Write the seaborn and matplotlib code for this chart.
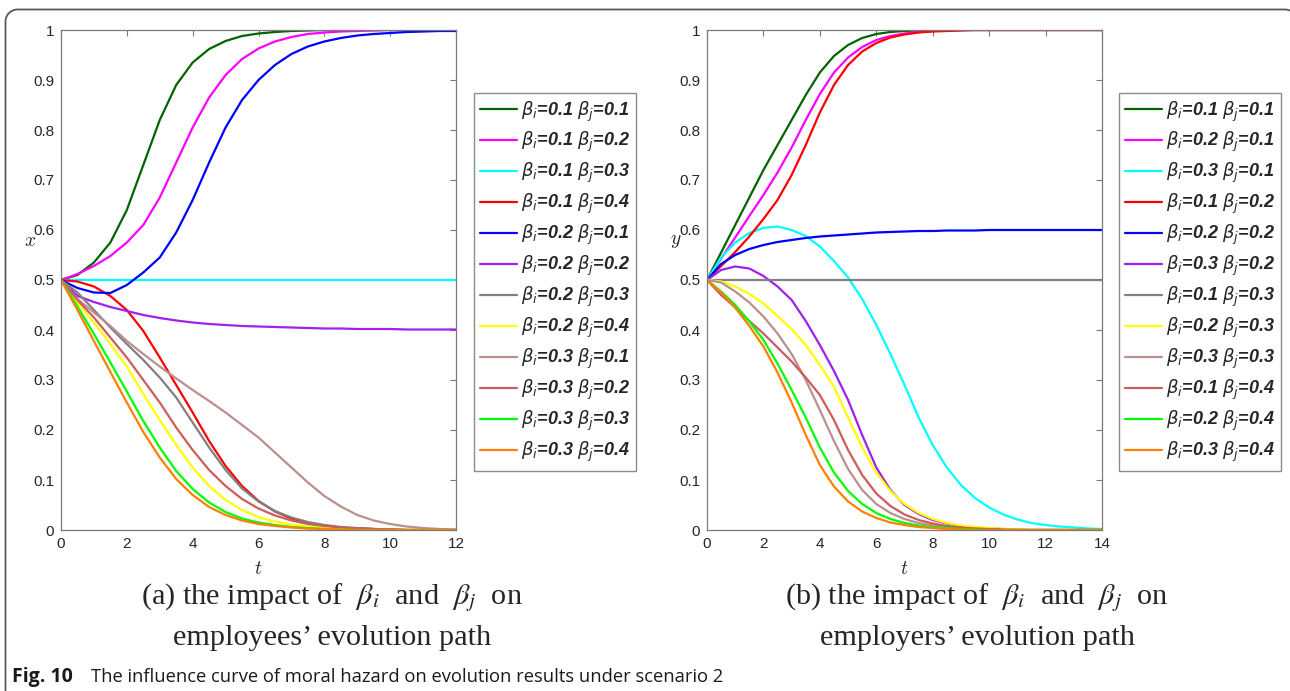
import numpy as np
import pandas as pd
import matplotlib
matplotlib.use("Agg")
import matplotlib.pyplot as plt
from matplotlib.patches import PathPatch
from matplotlib.path import Path
from matplotlib.transforms import IdentityTransform
from matplotlib.font_manager import FontProperties
from matplotlib.ticker import FuncFormatter, MultipleLocator
import seaborn as sns

# ---------------------------------------------------------------- data
T_EMP = np.arange(0, 12.01, 0.5)     # time grid, panel (a)
T_BOSS = np.arange(0, 14.01, 0.5)    # time grid, panel (b)

PAIRS_EMP = [("0.1", "0.1"), ("0.1", "0.2"), ("0.1", "0.3"), ("0.1", "0.4"),
             ("0.2", "0.1"), ("0.2", "0.2"), ("0.2", "0.3"), ("0.2", "0.4"),
             ("0.3", "0.1"), ("0.3", "0.2"), ("0.3", "0.3"), ("0.3", "0.4")]
PAIRS_BOSS = [("0.1", "0.1"), ("0.2", "0.1"), ("0.3", "0.1"), ("0.1", "0.2"),
              ("0.2", "0.2"), ("0.3", "0.2"), ("0.1", "0.3"), ("0.2", "0.3"),
              ("0.3", "0.3"), ("0.1", "0.4"), ("0.2", "0.4"), ("0.3", "0.4")]

COLORS = ["#006400", "#FF00FF", "#00FFFF", "#FF0000", "#0000FF", "#A020F0",
          "#808080", "#FFFF00", "#BC8F8F", "#CD5C5C", "#00FF00", "#FF8000"]

# employees' share x(t)
x_11 = [0.5, 0.51, 0.535, 0.575, 0.64, 0.73, 0.82, 0.89, 0.935, 0.962, 0.978, 0.988, 0.993,
        0.996, 0.998, 0.999, 1.0, 1.0, 1.0, 1.0, 1.0, 1.0, 1.0, 1.0, 1.0]
x_12 = [0.5, 0.512, 0.528, 0.548, 0.575, 0.61, 0.665, 0.735, 0.805, 0.865, 0.91, 0.942, 0.963,
        0.977, 0.986, 0.992, 0.995, 0.997, 0.998, 0.999, 1.0, 1.0, 1.0, 1.0, 1.0]
x_13 = [0.5, 0.5, 0.5, 0.5, 0.5, 0.5, 0.5, 0.5, 0.5, 0.5, 0.5, 0.5, 0.5,
        0.5, 0.5, 0.5, 0.5, 0.5, 0.5, 0.5, 0.5, 0.5, 0.5, 0.5, 0.5]
x_14 = [0.5, 0.497, 0.487, 0.468, 0.44, 0.398, 0.345, 0.29, 0.235, 0.178, 0.128, 0.088, 0.058,
        0.037, 0.023, 0.014, 0.009, 0.005, 0.003, 0.002, 0.001, 0.0, 0.0, 0.0, 0.0]
x_21 = [0.5, 0.484, 0.475, 0.474, 0.49, 0.515, 0.545, 0.595, 0.66, 0.735, 0.805, 0.86, 0.9,
        0.93, 0.952, 0.967, 0.977, 0.984, 0.989, 0.992, 0.994, 0.996, 0.997, 0.998, 0.998]
x_22 = [0.5, 0.468, 0.456, 0.446, 0.438, 0.43, 0.424, 0.419, 0.415, 0.412, 0.41, 0.408, 0.407,
        0.406, 0.405, 0.404, 0.403, 0.403, 0.402, 0.402, 0.402, 0.401, 0.401, 0.401, 0.401]
x_23 = [0.5, 0.475, 0.44, 0.405, 0.372, 0.34, 0.305, 0.265, 0.215, 0.165, 0.12, 0.083, 0.057,
        0.038, 0.025, 0.016, 0.01, 0.006, 0.004, 0.002, 0.001, 0.0, 0.0, 0.0, 0.0]
x_24 = [0.5, 0.455, 0.415, 0.372, 0.327, 0.272, 0.22, 0.17, 0.125, 0.088, 0.06, 0.04, 0.026,
        0.017, 0.011, 0.007, 0.004, 0.003, 0.002, 0.001, 0.0, 0.0, 0.0, 0.0, 0.0]
x_31 = [0.5, 0.462, 0.435, 0.408, 0.378, 0.352, 0.327, 0.303, 0.28, 0.258, 0.235, 0.21, 0.185,
        0.155, 0.125, 0.095, 0.068, 0.047, 0.03, 0.019, 0.012, 0.007, 0.004, 0.002, 0.001]
x_32 = [0.5, 0.46, 0.425, 0.385, 0.345, 0.3, 0.255, 0.205, 0.16, 0.12, 0.088, 0.062, 0.043,
        0.029, 0.019, 0.012, 0.008, 0.005, 0.003, 0.002, 0.001, 0.0, 0.0, 0.0, 0.0]
x_33 = [0.5, 0.447, 0.392, 0.335, 0.277, 0.218, 0.165, 0.118, 0.082, 0.055, 0.036, 0.023, 0.015,
        0.01, 0.006, 0.004, 0.002, 0.001, 0.0, 0.0, 0.0, 0.0, 0.0, 0.0, 0.0]
x_34 = [0.5, 0.44, 0.378, 0.316, 0.255, 0.196, 0.145, 0.102, 0.07, 0.046, 0.03, 0.019, 0.012,
        0.008, 0.005, 0.003, 0.002, 0.001, 0.0, 0.0, 0.0, 0.0, 0.0, 0.0, 0.0]

# employers' share y(t)
y_11 = [0.5, 0.555, 0.61, 0.665, 0.72, 0.77, 0.82, 0.87, 0.915, 0.948, 0.97, 0.984, 0.992, 0.996,
        0.998, 0.999, 1.0, 1.0, 1.0, 1.0, 1.0, 1.0, 1.0, 1.0, 1.0, 1.0, 1.0, 1.0, 1.0]
y_21 = [0.5, 0.543, 0.585, 0.628, 0.67, 0.715, 0.765, 0.82, 0.872, 0.915, 0.945, 0.966, 0.98, 0.988,
        0.993, 0.996, 0.998, 0.999, 1.0, 1.0, 1.0, 1.0, 1.0, 1.0, 1.0, 1.0, 1.0, 1.0, 1.0]
y_31 = [0.5, 0.545, 0.575, 0.594, 0.604, 0.607, 0.6, 0.588, 0.567, 0.538, 0.505, 0.462, 0.41, 0.352,
        0.29, 0.225, 0.17, 0.125, 0.09, 0.064, 0.045, 0.031, 0.021, 0.014, 0.01, 0.007, 0.005, 0.003, 0.002]
y_12 = [0.5, 0.528, 0.556, 0.587, 0.622, 0.66, 0.71, 0.77, 0.835, 0.89, 0.93, 0.957, 0.974, 0.985,
        0.991, 0.995, 0.997, 0.998, 0.999, 1.0, 1.0, 1.0, 1.0, 1.0, 1.0, 1.0, 1.0, 1.0, 1.0]
y_22 = [0.5, 0.532, 0.55, 0.562, 0.57, 0.576, 0.58, 0.584, 0.587, 0.589, 0.591, 0.593, 0.595, 0.596,
        0.597, 0.598, 0.598, 0.599, 0.599, 0.599, 0.6, 0.6, 0.6, 0.6, 0.6, 0.6, 0.6, 0.6, 0.6]
y_32 = [0.5, 0.52, 0.527, 0.523, 0.508, 0.487, 0.46, 0.418, 0.37, 0.318, 0.26, 0.19, 0.125, 0.08,
        0.05, 0.032, 0.02, 0.013, 0.008, 0.005, 0.003, 0.002, 0.001, 0.0, 0.0, 0.0, 0.0, 0.0, 0.0]
y_13 = [0.5, 0.5, 0.5, 0.5, 0.5, 0.5, 0.5, 0.5, 0.5, 0.5, 0.5, 0.5, 0.5, 0.5,
        0.5, 0.5, 0.5, 0.5, 0.5, 0.5, 0.5, 0.5, 0.5, 0.5, 0.5, 0.5, 0.5, 0.5, 0.5]
y_23 = [0.5, 0.497, 0.487, 0.472, 0.453, 0.428, 0.402, 0.37, 0.33, 0.287, 0.225, 0.165, 0.115, 0.078,
        0.052, 0.034, 0.022, 0.014, 0.009, 0.006, 0.004, 0.002, 0.001, 0.0, 0.0, 0.0, 0.0, 0.0, 0.0]
y_33 = [0.5, 0.495, 0.477, 0.455, 0.427, 0.393, 0.352, 0.3, 0.24, 0.178, 0.122, 0.08, 0.052, 0.034,
        0.022, 0.014, 0.009, 0.006, 0.004, 0.002, 0.001, 0.0, 0.0, 0.0, 0.0, 0.0, 0.0, 0.0, 0.0]
y_14 = [0.5, 0.47, 0.445, 0.418, 0.393, 0.365, 0.337, 0.305, 0.27, 0.22, 0.16, 0.11, 0.073, 0.048,
        0.031, 0.02, 0.013, 0.008, 0.005, 0.003, 0.002, 0.001, 0.0, 0.0, 0.0, 0.0, 0.0, 0.0, 0.0]
y_24 = [0.5, 0.477, 0.45, 0.417, 0.38, 0.333, 0.28, 0.225, 0.165, 0.115, 0.078, 0.052, 0.034, 0.022,
        0.014, 0.009, 0.006, 0.004, 0.002, 0.001, 0.0, 0.0, 0.0, 0.0, 0.0, 0.0, 0.0, 0.0, 0.0]
y_34 = [0.5, 0.475, 0.445, 0.408, 0.367, 0.315, 0.255, 0.19, 0.13, 0.087, 0.057, 0.037, 0.024, 0.015,
        0.01, 0.006, 0.004, 0.002, 0.001, 0.0, 0.0, 0.0, 0.0, 0.0, 0.0, 0.0, 0.0, 0.0, 0.0]

SERIES_EMP = [x_11, x_12, x_13, x_14, x_21, x_22, x_23, x_24, x_31, x_32, x_33, x_34]
SERIES_BOSS = [y_11, y_21, y_31, y_12, y_22, y_32, y_13, y_23, y_33, y_14, y_24, y_34]


def legend_label(pair):
    bi, bj = pair
    return r"$\beta_i$=" + bi + r" $\beta_j$=" + bj


def long_frame(t, pairs, series):
    rows = []
    for pair, vals in zip(pairs, series):
        key = legend_label(pair)
        for tt, v in zip(t, vals):
            rows.append((tt, v, key))
    return pd.DataFrame(rows, columns=["t", "value", "case"])


# ---------------------------------------------------------------- style
sns.set_style("white")
plt.rcParams["font.family"] = ["Liberation Sans", "DejaVu Sans"]

W, H = 1290, 691
fig = plt.figure(figsize=(W / 100, H / 100), dpi=100)
fig.patch.set_facecolor("white")

AX_LEFTS = [61, 707]
AX_W, AX_TOP, AX_BOT = 395, 30, 530
LEG_X = [474, 1119]
LEG_Y = 93

legend_font = FontProperties(family="Liberation Sans", weight="bold",
                             style="italic", size=13)

panels = [
    (T_EMP, PAIRS_EMP, SERIES_EMP, 12, "$x$",
     [r"(a) the impact of  $\beta_i$  and  $\beta_j$  on",
      "employees\u2019 evolution path"], 332),
    (T_BOSS, PAIRS_BOSS, SERIES_BOSS, 14, "$y$",
     [r"(b) the impact of  $\beta_i$  and  $\beta_j$  on",
      "employers\u2019 evolution path"], 977),
]

for k, (t, pairs, series, tmax, ylab, cap, cap_x) in enumerate(panels):
    ax = fig.add_axes([AX_LEFTS[k] / W, 1 - AX_BOT / H, AX_W / W, (AX_BOT - AX_TOP) / H])
    df = long_frame(t, pairs, series)
    order = [legend_label(p) for p in pairs]
    sns.lineplot(data=df, x="t", y="value", hue="case", hue_order=order,
                 palette=dict(zip(order, COLORS)), estimator=None, sort=False,
                 linewidth=1.6, legend=False, ax=ax)

    ax.set_xlim(0, tmax)
    ax.set_ylim(0, 1)
    ax.xaxis.set_major_locator(MultipleLocator(2))
    ax.yaxis.set_major_locator(MultipleLocator(0.1))
    ax.yaxis.set_major_formatter(FuncFormatter(lambda v, p: f"{v:g}"))
    ax.xaxis.set_major_formatter(FuncFormatter(lambda v, p: f"{v:g}"))
    ax.tick_params(direction="in", top=True, right=True, length=4, width=0.8,
                   color="#7a7a7a", labelcolor="#262626", labelsize=11, pad=5)
    for s in ax.spines.values():
        s.set_color("#7a7a7a")
        s.set_linewidth(0.9)

    ax.set_xlabel("$t$", fontsize=14, math_fontfamily="cm", color="#262626")
    ax.xaxis.set_label_coords(0.5, -0.062)
    ax.set_ylabel(ylab, fontsize=14, rotation=0, va="center", ha="center",
                  math_fontfamily="cm", color="#262626")
    ax.yaxis.set_label_coords(-0.079, 0.576)

    handles = ax.get_lines()[:len(order)]
    fig.legend(handles, order, loc="upper left",
               bbox_to_anchor=(LEG_X[k] / W, 1 - LEG_Y / H),
               bbox_transform=fig.transFigure, prop=legend_font,
               frameon=True, fancybox=False, framealpha=1,
               edgecolor="#8c8c8c", handlelength=2.05, handletextpad=0.2,
               labelspacing=0.375, borderpad=0.35, borderaxespad=0)

    fig.text(cap_x / W, 1 - 598 / H, cap[0], ha="center", va="center",
             family="Liberation Serif", fontsize=21.8, math_fontfamily="stix")
    fig.text(cap_x / W, 1 - 638 / H, cap[1], ha="center", va="center",
             family="Liberation Serif", fontsize=21.8)

# figure caption
fig.text(12 / W, 1 - 677 / H, "Fig. 10", ha="left", va="center",
         family="Open Sans", weight="bold", fontsize=14, color="#1a1a1a")
fig.text(91 / W, 1 - 677 / H,
         "The influence curve of moral hazard on evolution results under scenario 2",
         ha="left", va="center", family="Open Sans", fontsize=13.2, color="#1a1a1a")

# rounded frame around the figure block (pixel coordinates, origin bottom-left)
r = 12.0
c = 0.5523 * r
x0, x1, ytop, ybot = 5.5, 1297.0, H - 9.5, -20.0
verts = [(x0, ybot), (x0, ytop - r),
         (x0, ytop - r + c), (x0 + r - c, ytop), (x0 + r, ytop),
         (x1 - r, ytop),
         (x1 - r + c, ytop), (x1, ytop - r + c), (x1, ytop - r),
         (x1, ybot)]
codes = [Path.MOVETO, Path.LINETO,
         Path.CURVE4, Path.CURVE4, Path.CURVE4,
         Path.LINETO,
         Path.CURVE4, Path.CURVE4, Path.CURVE4,
         Path.LINETO]
frame = PathPatch(Path(verts, codes), transform=IdentityTransform(), fill=False,
                  edgecolor="#5a5a5a", linewidth=1.3)
fig.add_artist(frame)

fig.savefig("out.png", dpi=100)
